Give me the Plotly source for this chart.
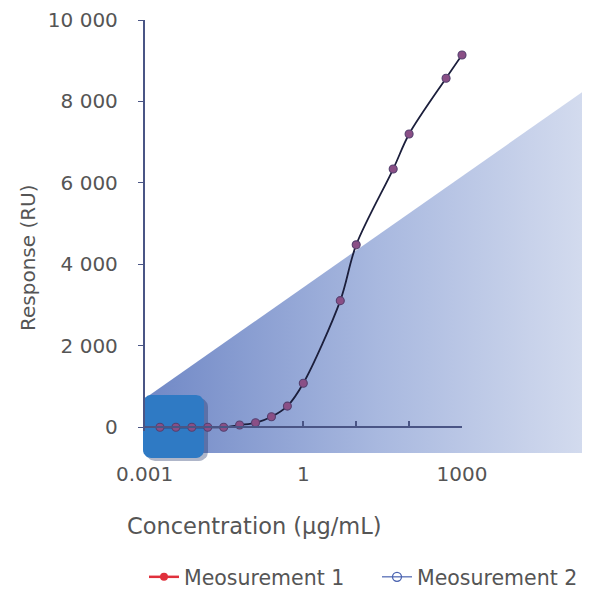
import numpy as np
import plotly.graph_objects as go

# ---------------- data ----------------
concentration = [0.001953, 0.003906, 0.007813, 0.015625, 0.03125, 0.0625, 0.125,
                 0.25, 0.5, 1, 5, 10, 50, 100, 500, 1000]
measurement_1 = [0, 0, 0, 0, 0, 55, 110, 260, 520, 1080, 3110, 4480, 6340, 7200, 8570, 9140]
measurement_2 = [0, 0, 0, 0, 0, 55, 110, 260, 520, 1080, 3110, 4480, 6340, 7200, 8570, 9140]
series_names = ["Meosurement 1", "Meosurement 2"]

y_tick_vals = [0, 2000, 4000, 6000, 8000, 10000]
y_tick_text = ["0", "2 000", "4 000", "6 000", "8 000", "10 000"]
x_tick_vals = [0.001, 1, 10, 100, 1000]
x_tick_text = ["0.001", "1", "", "", "1000"]

x_title = "Concentration (µg/mL)"
y_title = "Response (RU)"

# ---------------- layout constants (pixels, figure space) ----------------
W, H = 590, 589
PLOT_L, PLOT_R = 136.6, 454.0       # x-axis 0.001 .. 1000
Y0_PX, Y10K_PX = 419.3, 12.0        # y = 0 and y = 10000
Y_MIN = -100
FONT = "DejaVu Sans"
TXT = "#555555"
AXIS = "#4a5585"

px_per_unit = (Y0_PX - Y10K_PX) / 10000.0
ybot_px = Y0_PX - Y_MIN * px_per_unit

# decorative background (figure pixel space)
shade_x = [136, 600, 600, 136]
shade_y = [391, 66, 445, 445]


def rounded_rect(x0, y0, x1, y1, r, n=8):
    xs, ys = [], []
    corners = [(x1 - r, y0 + r, -90, 0), (x1 - r, y1 - r, 0, 90),
               (x0 + r, y1 - r, 90, 180), (x0 + r, y0 + r, 180, 270)]
    for cx, cy, a0, a1 in corners:
        for a in np.linspace(np.radians(a0), np.radians(a1), n):
            xs.append(cx + r * np.cos(a))
            ys.append(cy + r * np.sin(a))
    xs.append(xs[0]); ys.append(ys[0])
    return xs, ys


box_x, box_y = rounded_rect(135, 387, 196, 450, 8)
shadow_x, shadow_y = rounded_rect(138, 390, 200, 453, 9)

fig = go.Figure()

# background decoration on a full-figure helper axis
fig.add_trace(go.Scatter(x=shade_x, y=shade_y, fill="toself", mode="lines",
                         line=dict(width=0),
                         fillgradient=dict(type="horizontal",
                                           colorscale=[[0, "#7088c6"], [0.5, "#a8b8df"], [1, "#d8dff0"]]),
                         xaxis="x", yaxis="y", showlegend=False, hoverinfo="skip"))
fig.add_trace(go.Scatter(x=shadow_x, y=shadow_y, fill="toself", mode="lines",
                         line=dict(width=0), fillcolor="rgba(25,45,100,0.35)",
                         xaxis="x", yaxis="y", showlegend=False, hoverinfo="skip"))
fig.add_trace(go.Scatter(x=box_x, y=box_y, fill="toself", mode="lines",
                         line=dict(width=0), fillcolor="#2f7ac4",
                         xaxis="x", yaxis="y", showlegend=False, hoverinfo="skip"))

# fitted curve
fig.add_trace(go.Scatter(x=concentration, y=measurement_1, mode="lines",
                         line=dict(color="#1c1f3c", width=1.8, shape="spline", smoothing=0.9),
                         xaxis="x2", yaxis="y2", showlegend=False, hoverinfo="skip",
                         cliponaxis=False))
# measurement markers
fig.add_trace(go.Scatter(x=concentration, y=measurement_1, mode="markers",
                         marker=dict(color="#8a4f86", size=8),
                         xaxis="x2", yaxis="y2", showlegend=False, name=series_names[0],
                         cliponaxis=False))
fig.add_trace(go.Scatter(x=concentration, y=measurement_2, mode="markers",
                         marker=dict(symbol="circle-open", color="#55406f", size=8,
                                     line=dict(width=1.1)),
                         xaxis="x2", yaxis="y2", showlegend=False, name=series_names[1],
                         cliponaxis=False))
# legend entries
fig.add_trace(go.Scatter(x=[None], y=[None], mode="lines+markers", name=series_names[0],
                         line=dict(color="#e0303c", width=2.5),
                         marker=dict(color="#e0303c", size=8),
                         xaxis="x2", yaxis="y2"))
fig.add_trace(go.Scatter(x=[None], y=[None], mode="lines+markers", name=series_names[1],
                         line=dict(color="#4a63b0", width=1.2),
                         marker=dict(symbol="circle-open", color="#4a63b0", size=9,
                                     line=dict(width=1.3)),
                         xaxis="x2", yaxis="y2"))

fig.update_layout(
    width=W, height=H,
    margin=dict(l=0, r=0, t=0, b=0, autoexpand=False),
    paper_bgcolor="white", plot_bgcolor="rgba(0,0,0,0)",
    font=dict(family=FONT, color=TXT),
    xaxis=dict(domain=[0, 1], range=[0, W], visible=False, fixedrange=True),
    yaxis=dict(domain=[0, 1], range=[H, 0], visible=False, fixedrange=True),
    xaxis2=dict(type="log", range=[-3, 3], domain=[PLOT_L / W, PLOT_R / W],
                anchor="free", position=(H - Y0_PX) / H, automargin=False,
                showline=True, linecolor=AXIS, linewidth=1.5,
                ticks="inside", ticklen=6, tickwidth=1.5, tickcolor=AXIS,
                tickvals=x_tick_vals, ticktext=x_tick_text,
                tickfont=dict(size=20, color=TXT, family=FONT),
                ticklabelstandoff=29,
                showgrid=False, zeroline=False),
    yaxis2=dict(range=[Y_MIN, 10000], domain=[(H - ybot_px) / H, (H - Y10K_PX) / H],
                anchor="x2", automargin=False,
                showline=True, linecolor=AXIS, linewidth=1.5,
                ticks="outside", ticklen=5, tickwidth=1, tickcolor=AXIS,
                tickvals=y_tick_vals, ticktext=y_tick_text,
                tickfont=dict(size=20, color=TXT, family=FONT),
                ticklabelstandoff=16,
                showgrid=False, zeroline=False),
    legend=dict(orientation="h", x=136 / W, xanchor="left", y=0, yanchor="bottom",
                font=dict(size=20.5, color=TXT, family=FONT), bgcolor="rgba(0,0,0,0)",
                itemwidth=30, entrywidth=188, entrywidthmode="pixels"),
    annotations=[
        dict(text=x_title, x=246.5 / W, y=1 - 518 / H, xref="paper", yref="paper",
             xanchor="center", yanchor="middle", showarrow=False,
             font=dict(size=22.5, color=TXT, family=FONT)),
        dict(text=y_title, x=20 / W, y=1 - 250 / H, xref="paper", yref="paper",
             xanchor="center", yanchor="middle", showarrow=False, textangle=-90,
             font=dict(size=20, color=TXT, family=FONT)),
    ],
)

fig.write_html("out.html")
